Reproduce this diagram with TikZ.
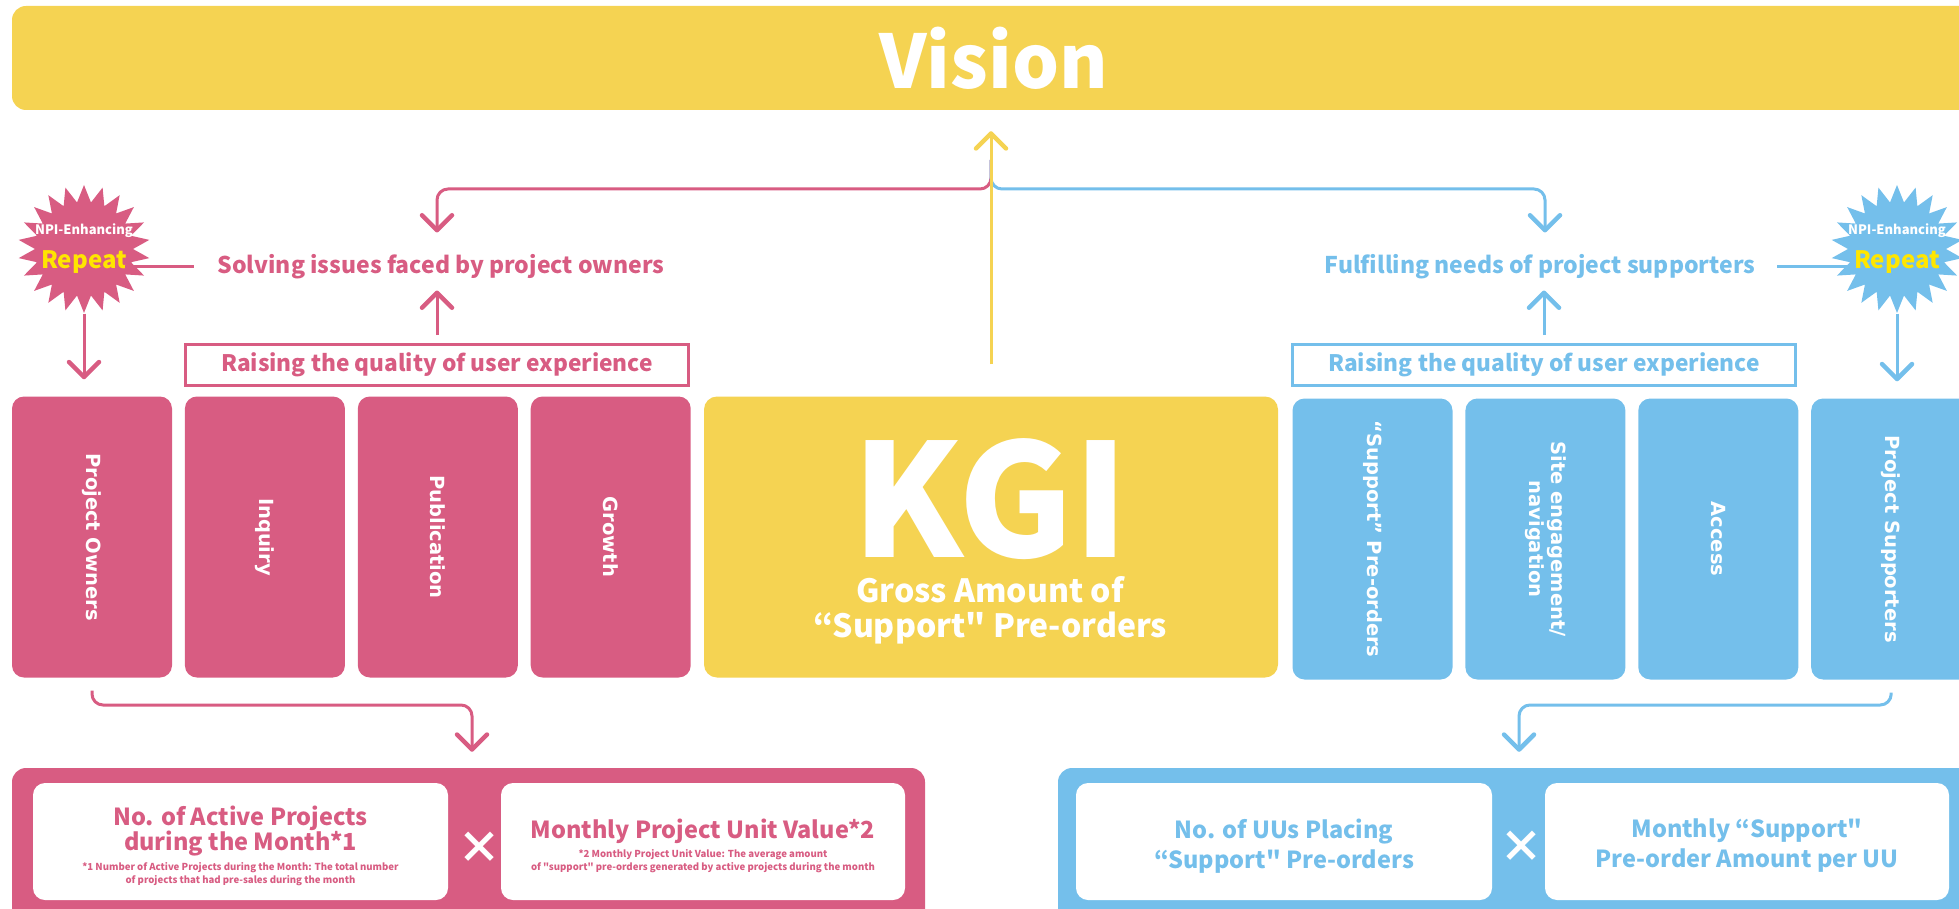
\documentclass[tikz,border=0pt]{standalone}
\usepackage{fontspec}
\newfontfamily\notofont{Noto Sans CJK JP}
\newfontfamily\colfont{DejaVu Sans}[BoldFont={DejaVu Sans Bold}]
\usetikzlibrary{arrows.meta, positioning, shapes.symbols}
\definecolor{ownerpink}{RGB}{216, 92, 130}
\definecolor{supportblue}{RGB}{116, 191, 235}
\definecolor{kgiyellow}{RGB}{245, 211, 82}
\definecolor{repeatyellow}{RGB}{255, 230, 0}

\tikzset{
  vtip/.tip={Straight Barb[length=15pt, width=30pt, line width=4.5pt, round]},
  link/.style={line width=3pt, rounded corners=11pt},
  colbox/.style={rounded corners=12pt, minimum width=160pt, minimum height=281pt, inner sep=0pt},
  coltext/.style={rotate=-90, text=white, align=center, inner sep=0pt, font=\colfont\bfseries\fontsize{19.5}{22}\selectfont},
  headline/.style={inner sep=0pt, font=\notofont\bfseries\fontsize{23}{25}\selectfont},
  raisebox/.style={fill=white, line width=3pt, minimum width=503pt, minimum height=41pt, inner sep=0pt, font=\notofont\bfseries\fontsize{22.7}{25}\selectfont},
  burst/.style={starburst, starburst points=22, starburst point height=17pt, random starburst=0, minimum width=132pt, minimum height=128pt, inner sep=0pt},
  bursttext/.style={align=center, text=white, inner sep=0pt, font=\notofont\bfseries\fontsize{13}{34}\selectfont},
  basebox/.style={rounded corners=14pt, minimum height=160pt},
  factorbox/.style={fill=white, rounded corners=12pt, minimum height=117pt},
  factortext/.style={inner sep=0pt, align=center, font=\notofont\bfseries\fontsize{23.5}{25}\selectfont},
  notetext/.style={inner sep=0pt, align=center, font=\notofont\bfseries\fontsize{9.6}{13}\selectfont},
  timestext/.style={text=white, inner sep=0pt, font=\notofont\bfseries\fontsize{44}{44}\selectfont},
}

\begin{document}
\begin{tikzpicture}[x=1pt, y=-1pt]
  \useasboundingbox (0,0) rectangle (1959,909);
  \clip (0,0) rectangle (1959,909);

  % Vision bar
  \node[fill=kgiyellow, rounded corners=14pt, minimum width=1963pt, minimum height=104pt, inner sep=0pt, text=white, font=\notofont\bfseries\fontsize{74}{80}\selectfont] (vision) at (993.5,58) {Vision};

  % KGI block
  \node[fill=kgiyellow, rounded corners=13pt, minimum width=574pt, minimum height=281pt] (kgi) at (991,537) {};
  \node[text=white, inner sep=0pt, font=\notofont\bfseries\fontsize{157}{160}\selectfont] (kgititle) at (990,499) {KGI};
  \node[text=white, inner sep=0pt, align=center, font=\notofont\bfseries\fontsize{32}{35}\selectfont] (kgisub) at (990,610) {Gross Amount of\\“Support" Pre-orders};

  % Project owner side
  \node[colbox, fill=ownerpink] (owners) at (92,537) {};
  \node[colbox, fill=ownerpink, right=12.5pt of owners] (inquiry) {};
  \node[colbox, fill=ownerpink, right=12.5pt of inquiry] (publication) {};
  \node[colbox, fill=ownerpink, right=12.5pt of publication] (growth) {};
  \node[coltext] (ownerslabel) at (owners) {Project Owners};
  \node[coltext] (inquirylabel) at (inquiry) {Inquiry};
  \node[coltext] (publicationlabel) at (publication) {Publication};
  \node[coltext] (growthlabel) at (growth) {Growth};
  \node[raisebox, draw=ownerpink, text=ownerpink] (pinkraise) at (437,365) {Raising the quality of user experience};
  \node[headline, text=ownerpink] (solving) at (441,267) {Solving issues faced by project owners};
  \node[burst, fill=ownerpink] (pinkstar) at (84,249) {};
  \node[bursttext] (pinkrepeat) at (pinkstar) {NPI-Enhancing\\{\color{repeatyellow}\fontsize{24}{24}\selectfont Repeat}};

  % Project supporter side
  \node[colbox, fill=supportblue] (preorders) at (1372.5,539) {};
  \node[colbox, fill=supportblue, right=12.5pt of preorders] (engagement) {};
  \node[colbox, fill=supportblue, right=12.5pt of engagement] (access) {};
  \node[colbox, fill=supportblue, right=12.5pt of access] (supporters) {};
  \node[coltext] (preorderslabel) at (preorders) {“Support” Pre-orders};
  \node[coltext] (engagementlabel) at (engagement) {Site engagement/\\navigation};
  \node[coltext] (accesslabel) at (access) {Access};
  \node[coltext] (supporterslabel) at (supporters) {Project Supporters};
  \node[raisebox, draw=supportblue, text=supportblue] (blueraise) at (1544,365) {Raising the quality of user experience};
  \node[headline, text=supportblue] (fulfilling) at (1540,267) {Fulfilling needs of project supporters};
  \node[burst, fill=supportblue] (bluestar) at (1897,249) {};
  \node[bursttext] (bluerepeat) at (bluestar) {NPI-Enhancing\\{\color{repeatyellow}\fontsize{24}{24}\selectfont Repeat}};

  % Owner-side breakdown
  \node[basebox, fill=ownerpink, minimum width=913pt] (pinkbase) at (468.5,848) {};
  \node[factorbox, minimum width=415pt] (activebox) at (240.5,841.5) {};
  \node[factorbox, minimum width=404pt] (unitbox) at (703,841.5) {};
  \node[factortext, text=ownerpink] (activetext) at (240.5,831) {No. of Active Projects\\during the Month*1};
  \node[notetext, text=ownerpink] (activenote) at (240.5,874.5) {*1 Number of Active Projects during the Month: The total number\\of projects that had pre-sales during the month};
  \node[factortext, text=ownerpink] (unittext) at (703,831.5) {Monthly Project Unit Value*2};
  \node[notetext, text=ownerpink] (unitnote) at (703,861) {*2 Monthly Project Unit Value: The average amount\\of "support" pre-orders generated by active projects during the month};
  \node[timestext] (pinktimes) at (479,848) {×};

  % Supporter-side breakdown
  \node[basebox, fill=supportblue, minimum width=920pt] (bluebase) at (1518,848) {};
  \node[factorbox, minimum width=416pt] (uubox) at (1284,841.5) {};
  \node[factorbox, minimum width=404pt] (amountbox) at (1747,841.5) {};
  \node[factortext, text=supportblue] (uutext) at (1284,846) {No. of UUs Placing\\[5pt]“Support" Pre-orders};
  \node[factortext, text=supportblue] (amounttext) at (1747,846) {Monthly “Support"\\[5pt]Pre-order Amount per UU};
  \node[timestext] (bluetimes) at (1521,847) {×};

  % Connectors
  \coordinate (hub) at (991,160);
  \coordinate (pinkbend) at (437,189);
  \coordinate (bluebend) at (1545,189);
  \coordinate (pinkdrop) at (472,705);
  \coordinate (bluedrop) at (1519,705);
  \draw[link, draw=ownerpink, -vtip, shorten >=22pt] (hub) |- (pinkbend) -- (pinkbend |- solving.north);
  \draw[link, draw=supportblue, -vtip, shorten >=22pt] (hub) |- (bluebend) -- (bluebend |- fulfilling.north);
  \draw[link, draw=kgiyellow, -vtip, shorten <=32pt, shorten >=21pt] (kgi.north) -- (kgi.north |- vision.south);
  \draw[link, draw=ownerpink, -vtip, shorten <=8pt, shorten >=11pt] (pinkraise.north) -- (pinkraise.north |- solving.south);
  \draw[link, draw=supportblue, -vtip, shorten <=8pt, shorten >=11pt] (blueraise.north) -- (blueraise.north |- fulfilling.south);
  \draw[link, draw=ownerpink, shorten <=-8pt, shorten >=23pt] (pinkstar.east |- solving.west) -- (solving.west);
  \draw[link, draw=supportblue, shorten <=22pt] (fulfilling.east) -- (bluestar.west |- fulfilling.east);
  \draw[link, draw=ownerpink, -vtip, shorten >=17pt] (pinkstar.south) -- (pinkstar.south |- owners.north);
  \draw[link, draw=supportblue, -vtip, shorten >=17pt] (bluestar.south) -- (bluestar.south |- supporters.north);
  \draw[link, draw=ownerpink, -vtip, shorten <=13pt, shorten >=16pt] (owners.south) |- (pinkdrop) -- (pinkdrop |- pinkbase.north);
  \draw[link, draw=supportblue, -vtip, shorten <=13pt, shorten >=16pt] (supporters.south) |- (bluedrop) -- (bluedrop |- bluebase.north);
\end{tikzpicture}
\end{document}
